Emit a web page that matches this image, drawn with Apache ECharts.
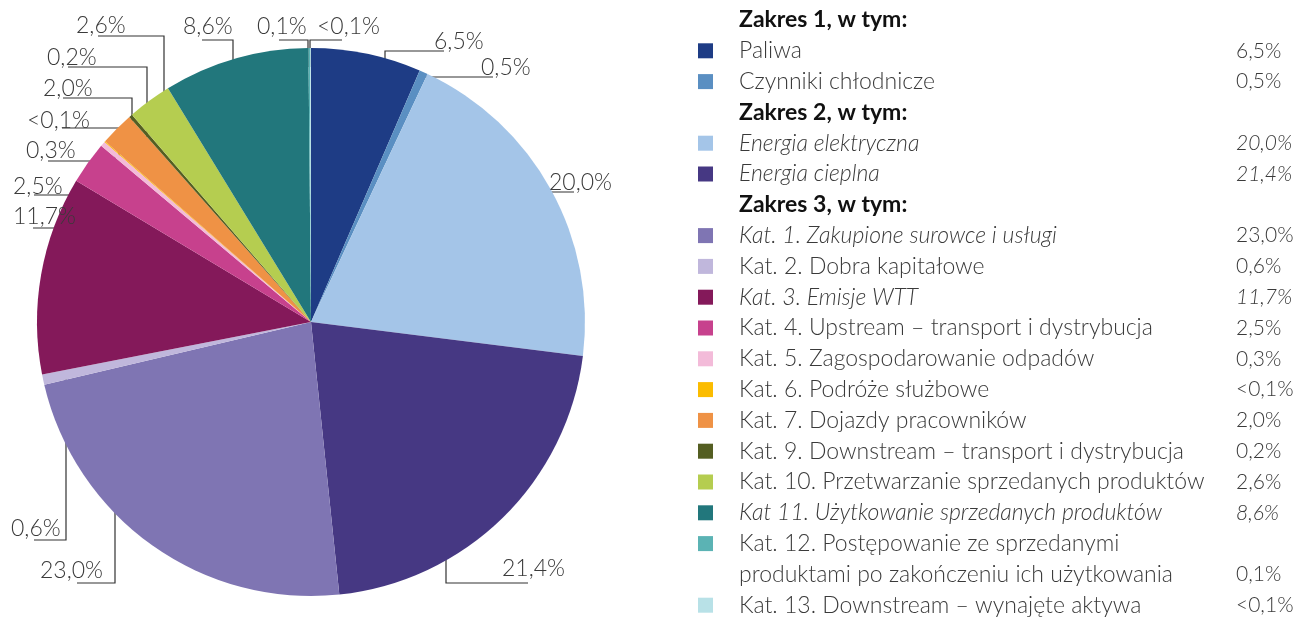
<!DOCTYPE html>
<html>
<head>
    <meta charset="utf-8">
    <title>Emisje - struktura</title>
    <script src="https://cdn.jsdelivr.net/npm/echarts@6/dist/echarts.min.js"></script>
    <style>
        html, body { margin: 0; padding: 0; background: #fff; }
    </style>
</head>
<body>
    <div id="main" style="width:1299px;height:617px;"></div>
    <script type="text/javascript">
        // dane
        var categories = [
            'Paliwa',
            'Czynniki chłodnicze',
            'Energia elektryczna',
            'Energia cieplna',
            'Kat. 1. Zakupione surowce i usługi',
            'Kat. 2. Dobra kapitałowe',
            'Kat. 3. Emisje WTT',
            'Kat. 4. Upstream – transport i dystrybucja',
            'Kat. 5. Zagospodarowanie odpadów',
            'Kat. 6. Podróże służbowe',
            'Kat. 7. Dojazdy pracowników',
            'Kat. 9. Downstream – transport i dystrybucja',
            'Kat. 10. Przetwarzanie sprzedanych produktów',
            'Kat 11. Użytkowanie sprzedanych produktów',
            'Kat. 12. Postępowanie ze sprzedanymi\nproduktami po zakończeniu ich użytkowania',
            'Kat. 13. Downstream – wynajęte aktywa'
        ];
        var shares = [6.5, 0.5, 20.0, 21.4, 23.0, 0.6, 11.7, 2.5, 0.3, 0.05, 2.0, 0.2, 2.6, 8.6, 0.1, 0.05];
        var shareLabels = ['6,5%', '0,5%', '20,0%', '21,4%', '23,0%', '0,6%', '11,7%', '2,5%', '0,3%', '<0,1%', '2,0%', '0,2%', '2,6%', '8,6%', '0,1%', '<0,1%'];
        var groupTitles = ['Zakres 1, w tym:', 'Zakres 2, w tym:', 'Zakres 3, w tym:'];
        var groupSizes = [2, 2, 12];

        // wygląd
        var colors = ['#1e3c85', '#5a8fc2', '#a4c5e8', '#463883', '#7f75b3', '#c0b7dc', '#84195a', '#c7418d',
                      '#f3bbd9', '#fbbc00', '#ef9245', '#545e22', '#b5cd50', '#22777c', '#5bb3b4', '#b8e1e7'];
        var nameItalic  = [0, 0, 1, 1, 1, 0, 1, 0, 0, 0, 0, 0, 0, 1, 0, 0];
        var valueItalic = [0, 0, 1, 1, 0, 0, 1, 0, 0, 0, 0, 0, 0, 1, 0, 0];

        // etykiety na wykresie: [x lewej krawędzi tekstu, linia bazowa] i łamana odnośnika
        var labelTextPos = [[434, 48], [481, 74], [549, 189], [502, 575], [40, 577], [11, 535], [13, 223], [13, 193],
                            [26, 157], [27, 127], [43, 95], [47, 64], [76, 32], [183, 33], [257, 33], [317, 33]];
        var labelLinePts = [
            [[385, 86], [385, 51], [444, 51]],
            [[419, 82], [419, 77], [493, 77]],
            [[487, 192], [487, 192], [574, 192]],
            [[446, 514], [446, 583], [528, 583]],
            [[115, 500], [115, 583], [77, 583]],
            [[66, 379], [66, 540], [34, 540]],
            [[98, 228], [98, 228], [33, 228]],
            [[99, 195], [99, 195], [34, 195]],
            [[115, 156], [115, 161], [48, 161]],
            [[119, 158], [119, 128], [62, 128]],
            [[132, 147], [132, 98], [63, 98]],
            [[147, 137], [147, 67], [68, 67]],
            [[164, 126], [164, 36], [98, 36]],
            [[233, 104], [233, 40], [202, 40]],
            [[308, 67], [308, 40], [279, 40]],
            [[310, 67], [310, 40], [342, 40]]
        ];

        var FONT = 'Lato, "Open Sans", sans-serif';
        var TXT = '#3a3a3a';

        var myChart = echarts.init(document.getElementById('main'));

        var pieData = [];
        for (var i = 0; i < categories.length; i++) {
            pieData.push({
                name: categories[i],
                value: shares[i],
                itemStyle: { color: colors[i] }
            });
        }

        // legenda jako tabela po prawej
        var legendEls = [];
        var rowY = 20, step = 30.8, idx = 0;
        for (var g = 0; g < groupTitles.length; g++) {
            legendEls.push({
                type: 'text', x: 739, y: rowY,
                style: { text: groupTitles[g], font: 'bold 23px ' + FONT, fill: '#111', verticalAlign: 'middle' }
            });
            rowY += step;
            for (var k = 0; k < groupSizes[g]; k++, idx++) {
                var lines = categories[idx].split('\n');
                legendEls.push({
                    type: 'rect', shape: { x: 698, y: rowY - 7.5, width: 15, height: 15 },
                    style: { fill: colors[idx] }
                });
                for (var l = 0; l < lines.length; l++) {
                    legendEls.push({
                        type: 'text', x: 739, y: rowY + l * step,
                        style: {
                            text: lines[l], fill: TXT, verticalAlign: 'middle',
                            font: (nameItalic[idx] ? 'italic ' : '') + '300 23px ' + FONT
                        }
                    });
                }
                rowY += (lines.length - 1) * step;
                legendEls.push({
                    type: 'text', x: 1236, y: rowY,
                    style: {
                        text: shareLabels[idx], fill: TXT, verticalAlign: 'middle',
                        font: (valueItalic[idx] ? 'italic ' : '') + '300 21px ' + FONT
                    }
                });
                rowY += step;
            }
        }

        var option = {
            animation: false,
            backgroundColor: '#fff',
            graphic: legendEls,
            series: [{
                type: 'pie',
                center: [311, 322],
                radius: 274,
                startAngle: 90,
                clockwise: true,
                avoidLabelOverlap: false,
                emphasis: { disabled: true },
                itemStyle: { borderWidth: 0 },
                label: {
                    show: true,
                    position: 'outside',
                    color: TXT,
                    fontFamily: FONT,
                    fontWeight: 300,
                    fontSize: 23,
                    formatter: function (p) { return shareLabels[p.dataIndex]; }
                },
                labelLine: {
                    show: true,
                    length: 10,
                    length2: 10,
                    lineStyle: { color: '#333', width: 1.2 }
                },
                labelLayout: function (p) {
                    var i = p.dataIndex;
                    return {
                        x: labelTextPos[i][0],
                        y: labelTextPos[i][1] + 5,
                        align: 'left',
                        verticalAlign: 'bottom',
                        labelLinePoints: labelLinePts[i]
                    };
                },
                data: pieData
            }]
        };
        myChart.setOption(option);
    </script>
</body>
</html>
